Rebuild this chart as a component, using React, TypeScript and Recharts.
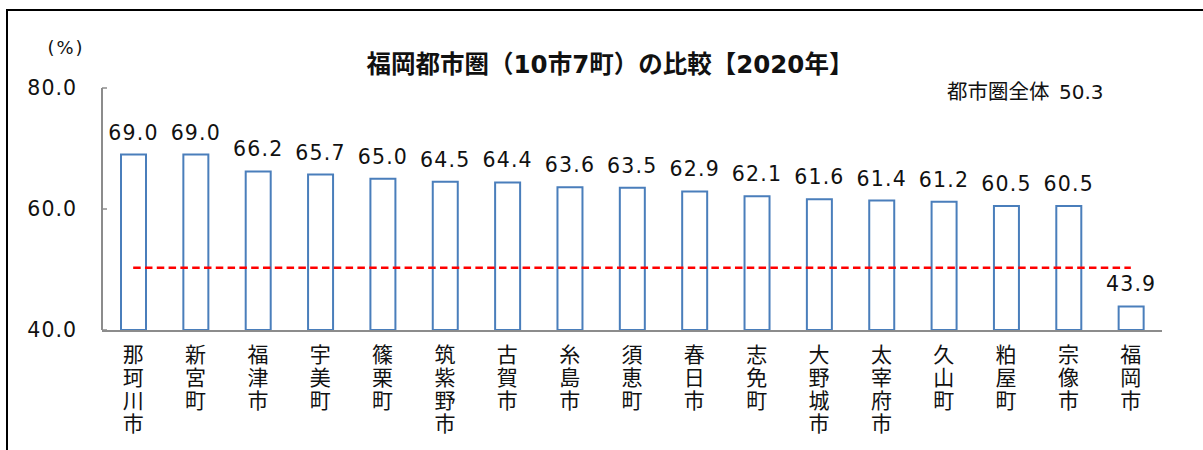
import React from 'react';
import { ComposedChart, Bar, Line, XAxis, YAxis, LabelList } from 'recharts';

const categories = ['那珂川市', '新宮町', '福津市', '宇美町', '篠栗町', '筑紫野市', '古賀市', '糸島市', '須恵町', '春日市', '志免町', '大野城市', '太宰府市', '久山町', '粕屋町', '宗像市', '福岡市'];
const rates = [69.0, 69.0, 66.2, 65.7, 65.0, 64.5, 64.4, 63.6, 63.5, 62.9, 62.1, 61.6, 61.4, 61.2, 60.5, 60.5, 43.9];
const overallRate = 50.3;
const yTicks = [40, 60, 80];
const titleText = '福岡都市圏（10市7町）の比較【2020年】';
const overallLabel = '都市圏全体';
const unitLabel = '(%)';

const data = categories.map((name, i) => ({ name, value: rates[i], avg: overallRate }));
const boundaryTicks = [...categories.map((_, i) => i), categories.length];

const NUM_FONT = "'DejaVu Sans', 'Noto Sans CJK JP', sans-serif";
const JP_FONT = "'Noto Sans CJK JP', sans-serif";
const TEXT = '#111';
const AXIS = '#8c8c8c';

// tick y arrives as axis top + tickSize(6) + tickMargin(2)
const CategoryTick = (props: any) => {
  const { x, y, payload } = props;
  const chars = Array.from(String(payload.value));
  const base = y - 8;
  return (
    <g>
      {chars.map((c, i) => (
        <text key={i} x={x} y={base + 32 + i * 23} textAnchor="middle" fontFamily={JP_FONT} fontSize={21} fill={TEXT}>
          {c}
        </text>
      ))}
    </g>
  );
};

export default function App() {
  return (
    <div style={{ position: 'absolute', left: 0, top: 0, width: 1203, height: 450, overflow: 'hidden', background: '#fff' }}>
      <div
        style={{
          position: 'absolute',
          left: 6,
          top: 9,
          width: 1230,
          height: 480,
          border: '2px solid #000',
          boxSizing: 'border-box',
        }}
      />
      <div style={{ position: 'absolute', left: 0, top: 0 }}>
        <ComposedChart width={1203} height={450} data={data} margin={{ top: 88, right: 41, bottom: 118, left: 42 }}>
          <XAxis
            xAxisId="frame"
            type="number"
            domain={[0, categories.length]}
            allowDataOverflow
            ticks={boundaryTicks}
            interval={0}
            height={1}
            tick={false}
            tickSize={-6}
            axisLine={{ stroke: AXIS, strokeWidth: 2 }}
            tickLine={{ stroke: AXIS, strokeWidth: 1.5 }}
          />
          <XAxis
            xAxisId="cat"
            dataKey="name"
            type="category"
            interval={0}
            height={1}
            axisLine={false}
            tickLine={false}
            tick={<CategoryTick />}
          />
          <YAxis
            domain={[40, 80]}
            allowDataOverflow
            ticks={yTicks}
            interval={0}
            width={60}
            tickSize={-5}
            tickMargin={30}
            tickFormatter={(v: number) => v.toFixed(1)}
            axisLine={{ stroke: AXIS, strokeWidth: 2 }}
            tickLine={{ stroke: AXIS, strokeWidth: 1.5 }}
            tick={{ fill: TEXT, fontSize: 20.5, fontFamily: NUM_FONT, style: { letterSpacing: '1px' } }}
          />
          <Bar xAxisId="cat" dataKey="value" barSize={25} fill="#ffffff" stroke="#4A7EBB" strokeWidth={2} isAnimationActive={false}>
            <LabelList
              dataKey="value"
              position="top"
              offset={15}
              formatter={(v: any) => Number(v).toFixed(1)}
              fill={TEXT}
              fontSize={20.5}
              fontFamily={NUM_FONT}
              style={{ letterSpacing: '1.2px' }}
            />
          </Bar>
          <Line
            xAxisId="cat"
            dataKey="avg"
            stroke="#FF0000"
            strokeWidth={2.5}
            strokeDasharray="7.5 4.3"
            dot={false}
            activeDot={false}
            isAnimationActive={false}
          />
        </ComposedChart>
      </div>
      <svg width={1203} height={450} style={{ position: 'absolute', left: 0, top: 0, pointerEvents: 'none' }}>
        <text x={610} y={73} textAnchor="middle" fontFamily={NUM_FONT} fontWeight="bold" fontSize={24.5} fill={TEXT}>
          {titleText}
        </text>
        <text x={66} y={54} textAnchor="middle" fontFamily={NUM_FONT} fontSize={18} fill={TEXT} style={{ letterSpacing: '2px' }}>
          {unitLabel}
        </text>
        <text x={947} y={99} textAnchor="start" fontFamily={JP_FONT} fontSize={20.5} fill={TEXT}>
          {overallLabel}
        </text>
        <text x={1059} y={99} textAnchor="start" fontFamily={NUM_FONT} fontSize={20} fill={TEXT}>
          {overallRate.toFixed(1)}
        </text>
      </svg>
    </div>
  );
}
